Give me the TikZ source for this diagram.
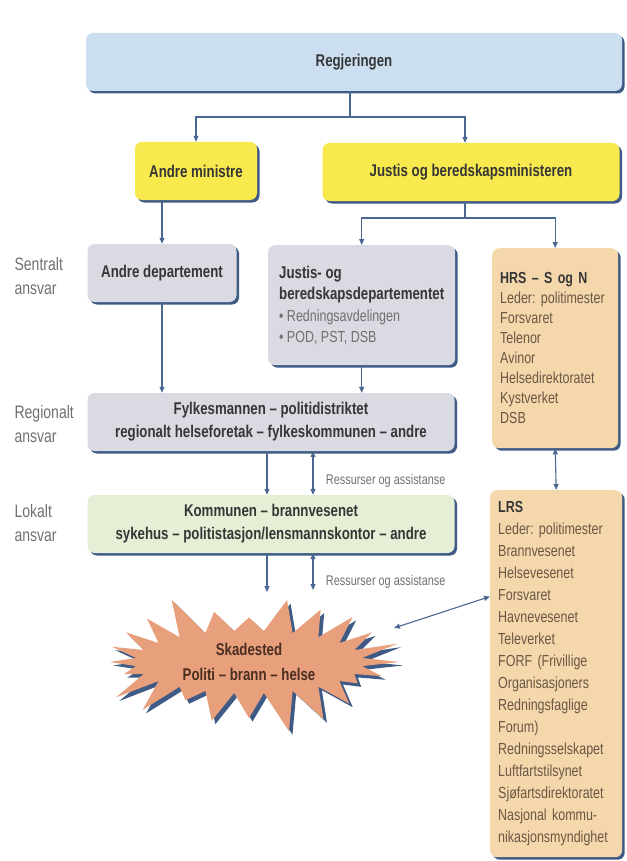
\documentclass[tikz,border=0pt]{standalone}
\usepackage{fontspec}
\setmainfont{Liberation Sans}[FakeStretch=0.78]
\usepackage{xcolor}
\usepackage{tikz}
\usetikzlibrary{shapes.symbols, shadows, arrows.meta, positioning, calc}

\definecolor{boxblue}{HTML}{CCDFF1}
\definecolor{boxyellow}{HTML}{F8EA4E}
\definecolor{boxgrey}{HTML}{D9DAE2}
\definecolor{boxgreen}{HTML}{E5EFD6}
\definecolor{boxtan}{HTML}{F4D8AC}
\definecolor{burstfill}{HTML}{E8A07C}
\definecolor{shadowblue}{HTML}{3E5A85}
\definecolor{linkblue}{HTML}{4B6892}
\definecolor{darktext}{HTML}{363636}
\definecolor{softtext}{HTML}{707070}
\definecolor{tantext}{HTML}{6A5744}
\definecolor{bursttext}{HTML}{4A2E22}

\begin{document}
\frenchspacing
\begin{tikzpicture}[
  x=1pt, y=-1pt,
  font=\fontsize{16}{20}\selectfont\frenchspacing,
  basebox/.style={rectangle, rounded corners=7pt, text=darktext, font=\fontsize{17}{23}\selectfont\bfseries\frenchspacing, drop shadow={shadow xshift=2.5pt, shadow yshift=-2.5pt, fill=shadowblue, opacity=1}},
  bluebox/.style={basebox, fill=boxblue, minimum height=58pt},
  yellowbox/.style={basebox, fill=boxyellow, minimum height=58pt},
  greybox/.style={basebox, fill=boxgrey, minimum height=58pt, align=center},
  greenbox/.style={basebox, fill=boxgreen, minimum height=58pt, align=center},
  listbox/.style={basebox, fill=boxgrey, anchor=north west, align=left, inner xsep=8pt, inner ysep=8pt, font=\fontsize{17}{21.5}\selectfont\bfseries},
  tanbox/.style={basebox, fill=boxtan, anchor=north west, align=left, inner xsep=8pt, inner ysep=6pt, text=tantext},
  burst/.style={starburst, starburst points=24, starburst point height=42pt, random starburst=3, fill=burstfill, text=bursttext, align=center, font=\fontsize{17}{25}\selectfont\bfseries, minimum width=312pt, minimum height=142pt, drop shadow={shadow xshift=3.5pt, shadow yshift=-3.5pt, fill=shadowblue, opacity=1}},
  sidelabel/.style={anchor=west, align=left, text=softtext, font=\fontsize{18}{24}\selectfont},
  note/.style={anchor=west, text=softtext, font=\fontsize{14}{16}\selectfont},
  link/.style={draw=linkblue, line width=1.1pt},
  arrow/.style={link, -{Triangle[length=6pt, width=5pt]}},
  biarrow/.style={link, {Triangle[length=6pt, width=5pt]}-{Triangle[length=6pt, width=5pt]}}
]
\useasboundingbox (0,0) rectangle (626,861);

\node (reg) [bluebox, minimum width=536pt] at (354,62) {Regjeringen};
\node (andremin) [yellowbox, minimum width=122pt] at (196,171) {Andre ministre};
\node (justmin) [yellowbox, minimum width=297pt] at (471,172) {Justis og beredskapsministeren};

\node (andredep) [greybox, minimum width=149pt] at (162,273) {Andre departement};
\node (justdep) [listbox, minimum width=187pt, minimum height=120pt] at (268,245) {Justis- og\\beredskapsdepartementet\\{\mdseries\fontsize{16}{21.5}\selectfont\color{softtext}\textbullet\ Redningsavdelingen}\\{\mdseries\fontsize{16}{21.5}\selectfont\color{softtext}\textbullet\ POD, PST, DSB}};
\node (hrs) [tanbox, text width=110pt, minimum height=200pt, font=\fontsize{16}{20}\selectfont\frenchspacing] at (492,248) {{\bfseries\color{darktext}HRS – S og N}\\Leder: politimester\\Forsvaret\\Telenor\\Avinor\\Helsedirektoratet\\Kystverket\\DSB};

\node (fylke) [greybox, minimum width=367pt] at (271,422) {Fylkesmannen – politidistriktet\\regionalt helseforetak – fylkeskommunen – andre};
\node (kommune) [greenbox, minimum width=367pt] at (271,524) {Kommunen – brannvesenet\\sykehus – politistasjon/lensmannskontor – andre};

\node (skade) [burst] at (249,662) {Skadested\\Politi – brann – helse};
\node (lrs) [tanbox, text width=116pt, minimum height=367pt, font=\fontsize{16}{22}\selectfont\frenchspacing] at (490,490) {{\bfseries\color{darktext}LRS}\\Leder: politimester\\Brannvesenet\\Helsevesenet\\Forsvaret\\Havnevesenet\\Televerket\\FORF (Frivillige\\Organisasjoners\\Redningsfaglige\\Forum)\\Redningsselskapet\\Luftfartstilsynet\\Sjøfartsdirektoratet\\Nasjonal kommu-\\nikasjonsmyndighet};

\node (sentralt) [sidelabel] at (11,276) {Sentralt\\ansvar};
\node (regionalt) [sidelabel] at (11,424) {Regionalt\\ansvar};
\node (lokalt) [sidelabel] at (11,523) {Lokalt\\ansvar};

\coordinate (split1) at (350,117);
\coordinate (split2) at (465,218);
\draw [link] (reg.south -| split1) -- (split1);
\draw [arrow] (split1) -| (andremin.north);
\draw [arrow] (split1) -| (split2 |- justmin.north);
\draw [link] (justmin.south -| split2) -- (split2);
\draw [arrow] (split2) -| (justdep.north);
\draw [arrow] (split2) -| (hrs.north);

\draw [arrow] (andremin.south -| andredep) -- (andredep.north);
\draw [arrow] (andredep.south) -- (andredep.south |- fylke.north);
\draw [arrow] (justdep.south) -- (justdep.south |- fylke.north);

\draw [arrow] ($(fylke.south)+(-4,0)$) -- ($(kommune.north)+(-4,0)$);
\draw [biarrow] ($(fylke.south)+(42,0)$) -- node (res1) [note, pos=0.68, xshift=9pt] {Ressurser og assistanse} ($(kommune.north)+(42,0)$);

\coordinate (hit1) at (267,592);
\coordinate (hit2) at (313,590);
\draw [arrow] (kommune.south -| hit1) -- (hit1);
\draw [biarrow] (kommune.south -| hit2) -- node (res2) [note, pos=0.78, xshift=9pt] {Ressurser og assistanse} (hit2);

\draw [biarrow] (hrs.south) -- (lrs.north);
\coordinate (burstout) at (394,628);
\draw [biarrow] (burstout) -- ($(lrs.north west)!0.29!(lrs.south west)$);
\end{tikzpicture}
\end{document}
